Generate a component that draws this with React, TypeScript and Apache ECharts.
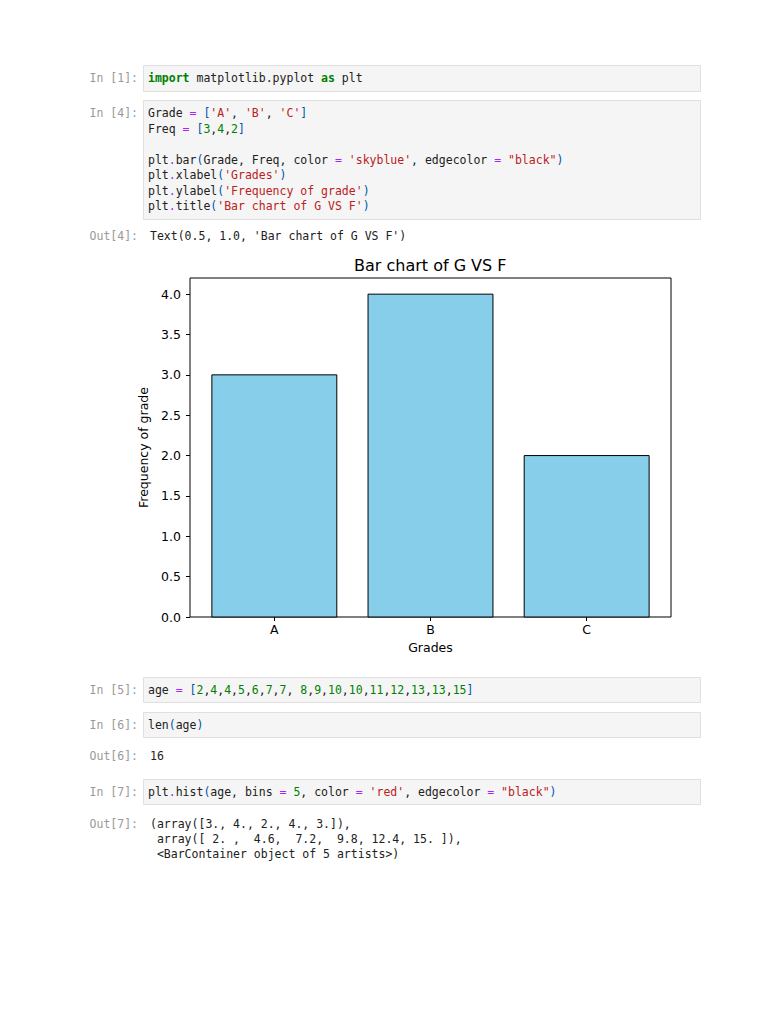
import React, { useEffect, useRef } from "react";
import * as echarts from "echarts";

// ---- chart data ----
const Grade = ["A", "B", "C"];
const Freq = [3, 4, 2];
const yTickValues = [0, 0.5, 1, 1.5, 2, 2.5, 3, 3.5, 4];
const yMin = 0;
const yMax = 4.2;

// ---- notebook text (token style, text) ----
type Tok = [string, string];
const cell1: Tok[][] = [
  [["k", "import"], ["t", " matplotlib.pyplot "], ["k", "as"], ["t", " plt"]],
];
const cell4: Tok[][] = [
  [["t", "Grade "], ["o", "="], ["t", " "], ["p", "["], ["s", "'A'"], ["t", ", "], ["s", "'B'"], ["t", ", "], ["s", "'C'"], ["p", "]"]],
  [["t", "Freq "], ["o", "="], ["t", " "], ["p", "["], ["n", "3"], ["t", ","], ["n", "4"], ["t", ","], ["n", "2"], ["p", "]"]],
  [],
  [["t", "plt"], ["o", "."], ["t", "bar"], ["p", "("], ["t", "Grade, Freq, color "], ["o", "="], ["t", " "], ["s", "'skyblue'"], ["t", ", edgecolor "], ["o", "="], ["t", " "], ["s", "\"black\""], ["p", ")"]],
  [["t", "plt"], ["o", "."], ["t", "xlabel"], ["p", "("], ["s", "'Grades'"], ["p", ")"]],
  [["t", "plt"], ["o", "."], ["t", "ylabel"], ["p", "("], ["s", "'Frequency of grade'"], ["p", ")"]],
  [["t", "plt"], ["o", "."], ["t", "title"], ["p", "("], ["s", "'Bar chart of G VS F'"], ["p", ")"]],
];
const out4 = ["Text(0.5, 1.0, 'Bar chart of G VS F')"];
const cell5: Tok[][] = [
  [["t", "age "], ["o", "="], ["t", " "], ["p", "["],
   ["n", "2"], ["t", ","], ["n", "4"], ["t", ","], ["n", "4"], ["t", ","], ["n", "5"], ["t", ","], ["n", "6"], ["t", ","], ["n", "7"], ["t", ","], ["n", "7"], ["t", ", "],
   ["n", "8"], ["t", ","], ["n", "9"], ["t", ","], ["n", "10"], ["t", ","], ["n", "10"], ["t", ","], ["n", "11"], ["t", ","], ["n", "12"], ["t", ","], ["n", "13"], ["t", ","], ["n", "13"], ["t", ","], ["n", "15"],
   ["p", "]"]],
];
const cell6: Tok[][] = [[["t", "len"], ["p", "("], ["t", "age"], ["p", ")"]]];
const out6 = ["16"];
const cell7: Tok[][] = [
  [["t", "plt"], ["o", "."], ["t", "hist"], ["p", "("], ["t", "age, bins "], ["o", "="], ["t", " "], ["n", "5"], ["t", ", color "], ["o", "="], ["t", " "], ["s", "'red'"], ["t", ", edgecolor "], ["o", "="], ["t", " "], ["s", "\"black\""], ["p", ")"]],
];
const out7 = [
  "(array([3., 4., 2., 4., 3.]),",
  " array([ 2. ,  4.6,  7.2,  9.8, 12.4, 15. ]),",
  " <BarContainer object of 5 artists>)",
];

const MONO = "'DejaVu Sans Mono', 'Liberation Mono', monospace";
const CODE_SIZE = 11.5;
const rich: any = {
  t: { fill: "#212121", fontFamily: MONO, fontSize: CODE_SIZE },
  k: { fill: "#008000", fontFamily: MONO, fontSize: CODE_SIZE, fontWeight: "bold" },
  o: { fill: "#AA22FF", fontFamily: MONO, fontSize: CODE_SIZE },
  p: { fill: "#0055AA", fontFamily: MONO, fontSize: CODE_SIZE },
  s: { fill: "#BA2121", fontFamily: MONO, fontSize: CODE_SIZE },
  n: { fill: "#008000", fontFamily: MONO, fontSize: CODE_SIZE },
};

function codeLine(tokens: Tok[], x: number, y: number): any {
  const text = tokens.map(([st, tx]) => `{${st}|${tx}}`).join("");
  return {
    type: "text",
    x,
    y,
    style: {
      text,
      rich,
      fontFamily: MONO,
      fontSize: CODE_SIZE,
      fill: "#212121",
      verticalAlign: "middle",
      align: "left",
    },
  };
}

function plainLine(text: string, x: number, y: number, color = "#212121"): any {
  return {
    type: "text",
    x,
    y,
    style: { text, fontFamily: MONO, fontSize: CODE_SIZE, fill: color, verticalAlign: "middle", align: "left" },
  };
}

function prompt(text: string, y: number): any {
  return {
    type: "text",
    x: 138,
    y,
    style: { text, fontFamily: MONO, fontSize: CODE_SIZE, fill: "#9a9a9a", verticalAlign: "middle", align: "right" },
  };
}

function cellBox(top: number, bottom: number): any {
  return {
    type: "rect",
    shape: { x: 143.5, y: top + 0.5, width: 557, height: bottom - top },
    style: { fill: "#f5f5f5", stroke: "#e0e0e0", lineWidth: 1 },
  };
}

const LINE_H = 15.5;
const CODE_X = 148;
const OUT_X = 150;

function buildNotebook(): any[] {
  const els: any[] = [];
  els.push(cellBox(65, 91), prompt("In [1]:", 78));
  cell1.forEach((l, i) => els.push(codeLine(l, CODE_X, 78 + i * LINE_H)));
  els.push(cellBox(100, 219), prompt("In [4]:", 113));
  cell4.forEach((l, i) => { if (l.length) els.push(codeLine(l, CODE_X, 113 + i * LINE_H)); });
  els.push(prompt("Out[4]:", 236));
  out4.forEach((l, i) => els.push(plainLine(l, OUT_X, 236 + i * LINE_H)));
  els.push(cellBox(677, 702), prompt("In [5]:", 690));
  cell5.forEach((l, i) => els.push(codeLine(l, CODE_X, 690 + i * LINE_H)));
  els.push(cellBox(712, 737), prompt("In [6]:", 725));
  cell6.forEach((l, i) => els.push(codeLine(l, CODE_X, 725 + i * LINE_H)));
  els.push(prompt("Out[6]:", 756));
  out6.forEach((l, i) => els.push(plainLine(l, OUT_X, 756 + i * LINE_H)));
  els.push(cellBox(779, 804), prompt("In [7]:", 792));
  cell7.forEach((l, i) => els.push(codeLine(l, CODE_X, 792 + i * LINE_H)));
  els.push(prompt("Out[7]:", 824));
  out7.forEach((l, i) => els.push(plainLine(l, OUT_X, 824 + i * 15)));
  return els;
}

const SANS = "'DejaVu Sans', sans-serif";

// plot frame (matplotlib axes box) and inner band area (x from -0.5 to 2.5 of -0.54..2.54)
const FRAME = { left: 190, top: 278, width: 481, height: 339 };
const BAND = { left: 196.25, top: 278, width: 468.5, height: 339 };

export default function App() {
  const ref = useRef<HTMLDivElement>(null);
  useEffect(() => {
    if (!ref.current) return;
    const chart = echarts.init(ref.current, undefined, { renderer: "svg" });
    const barData = Grade.map((g, i) => [i, Freq[i]]);
    const axisFont = { fontFamily: SANS, fontSize: 12.5, color: "#000" };
    const option: any = {
      animation: false,
      backgroundColor: "#ffffff",
      title: {
        text: "Bar chart of G VS F",
        left: 354,
        top: 257,
        padding: 0,
        textStyle: { fontFamily: SANS, fontSize: 16, fontWeight: "normal", color: "#000" },
      },
      grid: [
        { ...BAND, show: false },
        { ...FRAME, show: true, borderColor: "#000", borderWidth: 1, backgroundColor: "transparent" },
      ],
      xAxis: [
        {
          gridIndex: 0,
          type: "category",
          data: Grade,
          boundaryGap: true,
          name: "Grades",
          nameLocation: "middle",
          nameGap: 24,
          nameTextStyle: axisFont,
          axisLine: { show: false },
          splitLine: { show: false },
          axisTick: { show: true, alignWithLabel: true, length: 4, lineStyle: { color: "#000" } },
          axisLabel: { margin: 6, ...axisFont },
        },
        { gridIndex: 1, type: "value", min: 0, max: 1, show: false },
      ],
      yAxis: [
        { gridIndex: 0, type: "value", min: yMin, max: yMax, show: false },
        {
          gridIndex: 1,
          type: "value",
          min: yMin,
          max: yMax,
          name: "Frequency of grade",
          nameLocation: "middle",
          nameRotate: 90,
          nameGap: 37,
          nameTextStyle: axisFont,
          axisLine: { show: false },
          splitLine: { show: false },
          axisTick: { show: true, customValues: yTickValues, length: 4, lineStyle: { color: "#000" } },
          axisLabel: {
            customValues: yTickValues,
            formatter: (v: number) => v.toFixed(1),
            margin: 9,
            ...axisFont,
          },
        },
      ],
      series: [
        {
          type: "custom",
          xAxisIndex: 0,
          yAxisIndex: 0,
          data: barData,
          renderItem: (params: any, api: any) => {
            const x = api.value(0);
            const y = api.value(1);
            const top = api.coord([x, y]);
            const base = api.coord([x, 0]);
            const w = api.size([1, 0])[0] * 0.8;
            return {
              type: "rect",
              shape: { x: top[0] - w / 2, y: top[1], width: w, height: base[1] - top[1] },
              style: { fill: "#87CEEB", stroke: "#000", lineWidth: 1 },
            };
          },
        },
      ],
      graphic: buildNotebook(),
    };
    chart.setOption(option);
    return () => chart.dispose();
  }, []);
  return (
    <div
      ref={ref}
      style={{ position: "absolute", left: 0, top: 0, width: 768, height: 1024, background: "#fff" }}
    />
  );
}
